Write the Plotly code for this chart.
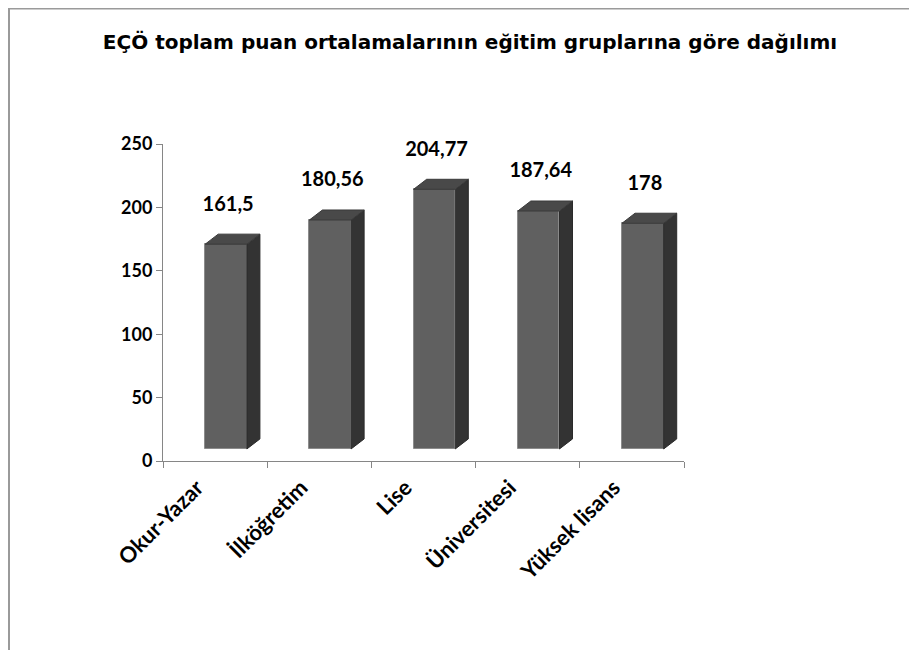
"""
EÇÖ toplam puan ortalamaları - eğitim grupları (3B görünümlü sütun grafik)
"""
import plotly.graph_objects as go

# veriler
categories = ["Okur-Yazar", "İlköğretim", "Lise", "Üniversitesi", "Yüksek lisans"]
values = [161.5, 180.56, 204.77, 187.64, 178]
y_ticks = [0, 50, 100, 150, 200, 250]

title = "EÇÖ toplam puan ortalamalarının eğitim gruplarına göre dağılımı"

# 3B görünüm ayarları (eksen birimleri)
off = 0.105     # ön yüzün kategori merkezine göre kayması
w = 0.40        # ön yüz genişliği
dx = 0.125      # derinlik (yatay)
dy = 7.9        # derinlik (dikey)
d = 9.5         # ön yüzün tabandan yüksekliği

FRONT = "#606060"
SIDE = "#333333"
TOP = "#494949"
FONT = "Lato"

# kenar boşlukları (px)
W, H = 917, 650
ML, MR, MT, MB = 155, 241, 136, 197

fig = go.Figure()

xs = list(range(len(categories)))

# ön yüzler
fig.add_trace(go.Bar(
    x=xs,
    y=values,
    base=d,
    width=w,
    offset=off - w / 2,
    marker=dict(color=FRONT, line=dict(color="#8c8c8c", width=1)),
    hoverinfo="skip",
    showlegend=False,
))

# yan ve üst yüzler
for i, v in zip(xs, values):
    x0 = i + off - w / 2
    x1 = i + off + w / 2
    top = v + d
    fig.add_trace(go.Scatter(
        x=[x1, x1 + dx, x1 + dx, x1, x1],
        y=[d, d + dy, top + dy, top, d],
        mode="lines",
        fill="toself",
        fillcolor=SIDE,
        line=dict(color="#2a2a2a", width=1),
        hoverinfo="skip",
        showlegend=False,
    ))
    fig.add_trace(go.Scatter(
        x=[x0, x0 + dx, x1 + dx, x1, x0],
        y=[top, top + dy, top + dy, top, top],
        mode="lines",
        fill="toself",
        fillcolor=TOP,
        line=dict(color="#3a3a3a", width=1),
        hoverinfo="skip",
        showlegend=False,
    ))

# değer etiketleri
labels = [f"{v:g}".replace(".", ",") for v in values]
fig.add_trace(go.Scatter(
    x=[i + off + 0.02 for i in xs],
    y=[v + 40 for v in values],
    mode="text",
    text=labels,
    textfont=dict(family=FONT, size=20, color="black", weight="bold"),
    cliponaxis=False,
    hoverinfo="skip",
    showlegend=False,
))

# çerçeve (şeklin kenarı)
pw = W - ML - MR
ph = H - MT - MB
fig.add_shape(
    type="rect", xref="paper", yref="paper",
    x0=(1 - ML) / pw, x1=(W + 20 - ML) / pw,
    y0=-(MB + 20) / ph, y1=1 + (MT - 0.5) / ph,
    line=dict(color="#9a9a9a", width=2),
    fillcolor="rgba(0,0,0,0)",
    layer="below",
)

fig.update_layout(
    width=W,
    height=H,
    margin=dict(l=ML, r=MR, t=MT, b=MB),
    paper_bgcolor="white",
    plot_bgcolor="white",
    title=dict(
        text=title,
        x=462 / W, xanchor="center",
        y=1 - 34 / H, yanchor="middle",
        font=dict(family="DejaVu Sans", size=20, color="black", weight="bold"),
    ),
    xaxis=dict(
        range=[-0.5, len(categories) - 0.5],
        tickmode="array",
        tickvals=xs,
        ticktext=categories,
        ticks="",
        tickangle=-45,
        ticklabelshift=-18,
        ticklabelstandoff=4,
        tickfont=dict(family=FONT, size=22, color="black", weight="bold"),
        showline=True,
        linecolor="#868686",
        linewidth=1,
        showgrid=False,
        zeroline=False,
        minor=dict(tickmode="array", tickvals=[i - 0.5 for i in range(len(categories) + 1)],
                   ticks="outside", ticklen=6, tickcolor="#868686", showgrid=False),
    ),
    yaxis=dict(
        range=[0, 250],
        tickmode="array",
        tickvals=y_ticks,
        ticks="outside",
        ticklen=6,
        tickcolor="#868686",
        tickfont=dict(family=FONT, size=18, color="black", weight="bold"),
        showline=True,
        linecolor="#868686",
        linewidth=1,
        showgrid=False,
        zeroline=False,
    ),
    bargap=0,
)

fig.write_html("out.html")
